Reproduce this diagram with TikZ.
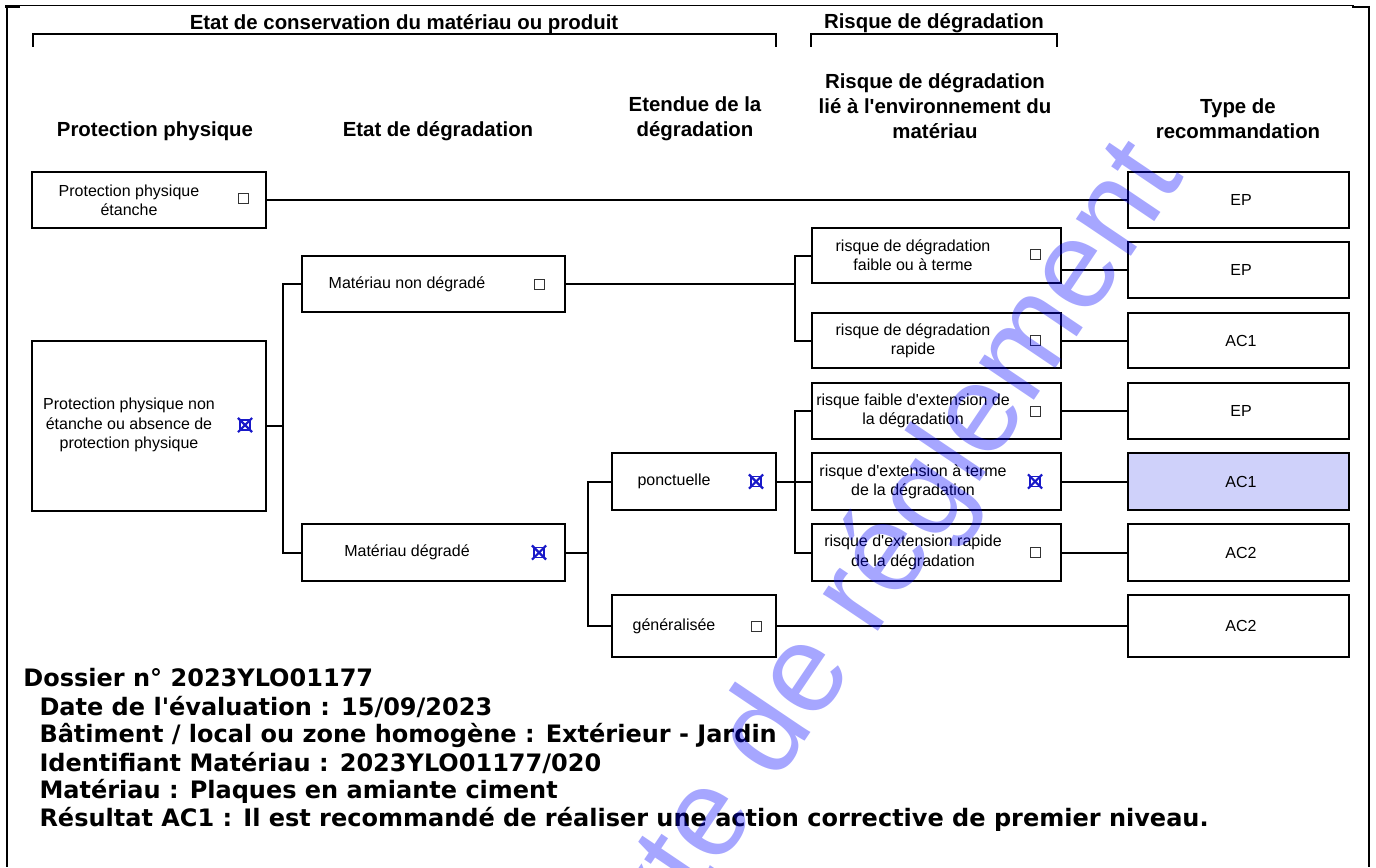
\documentclass[tikz,border=0pt]{standalone}
\usepackage{fontspec}
\setmainfont{Liberation Sans}
\newfontfamily\infofont{DejaVu Sans}
\definecolor{selfill}{RGB}{207,209,250}
\definecolor{xblue}{RGB}{25,25,200}
\definecolor{wmblue}{RGB}{0,0,255}
\newcommand{\ap}{\textquotesingle}

\tikzset{every picture/.style={line width=0.75pt}}
\tikzset{
  box/.style={draw, line width=1.5pt, inner sep=0pt},
  txt/.style={inner sep=0pt, align=center, font=\fontsize{12}{14.5}\selectfont},
  hdr/.style={inner sep=0pt, align=center, font=\fontsize{15.3}{18.75}\selectfont\bfseries},
  chk/.style={draw=black!80, line width=0.75pt, minimum size=7.5pt, inner sep=0pt},
  chkx/.style={draw=xblue, line width=0.9pt, minimum size=7.5pt, inner sep=0pt},
  xmark/.style={draw=xblue, line width=1.6pt, shorten <=-1.5pt, shorten >=-1.5pt},
  conn/.style={line width=1.5pt},
  info/.style={anchor=west, inner sep=0pt, font=\infofont\fontsize{18}{21}\selectfont\bfseries},
}

\begin{document}
\begin{tikzpicture}[x=0.75pt,y=0.75pt,yscale=-1,xscale=1]
\useasboundingbox (0,0) rectangle (1376,867);

%Frame
\draw [line width=0.75pt] (5,6) -- (1354,6) ;
\draw [line width=1.5pt] (5,7) -- (20,7) ;
\draw [line width=1.5pt] (1352,7) -- (1369,7) ;
\draw [line width=1.5pt] (7,6) -- (7,867) ;
\draw [line width=2pt] (1369,6) -- (1369,867) ;

%Brackets
\draw [line width=1.5pt] (33,47) -- (33,34) -- (776,34) -- (776,47) ;
\draw [line width=1.5pt] (811,47) -- (811,34) -- (1057,34) -- (1057,47) ;

% Text Node
\draw (404,24) node [hdr] (cons) {Etat de conservation du matériau ou produit};
% Text Node
\draw (934,23) node [hdr] (risk) {Risque de dégradation};
% Text Node
\draw (155,131) node [hdr] (hprot) {Protection physique};
% Text Node
\draw (438,131) node [hdr] (hetat) {Etat de dégradation};
% Text Node
\draw (695,119) node [hdr] (hetend) {Etendue de la\\dégradation};
% Text Node
\draw (935,106) node [hdr] (hrisk) {Risque de dégradation\\lié à l\ap environnement du\\matériau};
% Text Node
\draw (1238,119) node [hdr] (htype) {Type de\\recommandation};

%Protection physique
\draw (149,200) node [box, minimum width=175.5pt, minimum height=42pt] (ppe) {};
\draw (129,200) node [txt] (ppet) {Protection physique\\étanche};
\draw (243,198) node [chk] (ppec) {};
\draw (149,426) node [box, minimum width=175.5pt, minimum height=127.5pt] (ppne) {};
\draw (129,425) node [txt] (ppnet) {Protection physique non\\étanche ou absence de\\protection physique};
\draw (245,425) node [chkx] (ppnec) {};
\draw [xmark] (ppnec.north west) -- (ppnec.south east) ;
\draw [xmark] (ppnec.north east) -- (ppnec.south west) ;

%Etat de degradation
\draw (433.5,284) node [box, minimum width=197.25pt, minimum height=42pt] (mnd) {};
\draw (407,284) node [txt] (mndt) {Matériau non dégradé};
\draw (539,284) node [chk] (mndc) {};
\draw (433.5,552.5) node [box, minimum width=197.25pt, minimum height=42.5pt] (md) {};
\draw (407,552.5) node [txt] (mdt) {Matériau dégradé};
\draw (539,552.5) node [chkx] (mdc) {};
\draw [xmark] (mdc.north west) -- (mdc.south east) ;
\draw [xmark] (mdc.north east) -- (mdc.south west) ;

%Etendue
\draw (694,481.5) node [box, minimum width=123pt, minimum height=42.75pt] (ponc) {};
\draw (674,481.5) node [txt] (ponct) {ponctuelle};
\draw (756,481.5) node [chkx] (poncc) {};
\draw [xmark] (poncc.north west) -- (poncc.south east) ;
\draw [xmark] (poncc.north east) -- (poncc.south west) ;
\draw (694,626) node [box, minimum width=123pt, minimum height=46.5pt] (gen) {};
\draw (674,626) node [txt] (gent) {généralisée};
\draw (756,626) node [chk] (genc) {};

%Risque
\draw (936.5,255.5) node [box, minimum width=186.75pt, minimum height=41.25pt] (ra) {};
\draw (913,255.5) node [txt] (rat) {risque de dégradation\\faible ou à terme};
\draw (1035,254) node [chk] (rac) {};
\draw (936.5,340.5) node [box, minimum width=186.75pt, minimum height=41.25pt] (rb) {};
\draw (913,340.5) node [txt] (rbt) {risque de dégradation\\rapide};
\draw (1035,340.5) node [chk] (rbc) {};
\draw (936.5,411) node [box, minimum width=186.75pt, minimum height=42pt] (rc) {};
\draw (913,411) node [txt] (rct) {risque faible d\ap extension de\\la dégradation};
\draw (1035,411) node [chk] (rcc) {};
\draw (936.5,481.5) node [box, minimum width=186.75pt, minimum height=42.75pt] (rd) {};
\draw (913,481.5) node [txt] (rdt) {risque d\ap extension à terme\\de la dégradation};
\draw (1035,481.5) node [chkx] (rdc) {};
\draw [xmark] (rdc.north west) -- (rdc.south east) ;
\draw [xmark] (rdc.north east) -- (rdc.south west) ;
\draw (936.5,552.5) node [box, minimum width=186.75pt, minimum height=42.75pt] (re) {};
\draw (913,552.5) node [txt] (ret) {risque d\ap extension rapide\\de la dégradation};
\draw (1035,552.5) node [chk] (rec) {};

%Type de recommandation
\draw (1238.5,200) node [box, minimum width=165.75pt, minimum height=42pt] (epa) {};
\draw (1241,200) node [txt] (epat) {EP};
\draw (1238.5,270) node [box, minimum width=165.75pt, minimum height=42pt] (epb) {};
\draw (1241,270) node [txt] (epbt) {EP};
\draw (1238.5,340.5) node [box, minimum width=165.75pt, minimum height=41.25pt] (aca) {};
\draw (1241,340.5) node [txt] (acat) {AC1};
\draw (1238.5,411) node [box, minimum width=165.75pt, minimum height=42pt] (epc) {};
\draw (1241,411) node [txt] (epct) {EP};
\draw (1238.5,481.5) node [box, fill=selfill, minimum width=165.75pt, minimum height=42.75pt] (acb) {};
\draw (1241,481.5) node [txt] (acbt) {AC1};
\draw (1238.5,552.5) node [box, minimum width=165.75pt, minimum height=42.75pt] (acc) {};
\draw (1241,552.5) node [txt] (acct) {AC2};
\draw (1238.5,626) node [box, minimum width=165.75pt, minimum height=46.5pt] (acd) {};
\draw (1241,626) node [txt] (acdt) {AC2};

%Straight Lines
\coordinate (ja) at (283,426);
\coordinate (jb) at (795,284);
\coordinate (jc) at (588,552.5);
\coordinate (jd) at (795,481.5);
\draw [conn] (ppe.east) -- (epa.west) ;
\draw [conn] (ppne.east) -- (ja) ;
\draw [conn] (mnd.west) -| (ja) |- (md.west) ;
\draw [conn] (mnd.east) -- (jb) ;
\draw [conn] (ra.west) -| (jb) |- (rb.west) ;
\draw [conn] (md.east) -- (jc) ;
\draw [conn] (ponc.west) -| (jc) |- (gen.west) ;
\draw [conn] (ponc.east) -- (jd) ;
\draw [conn] (rc.west) -| (jd) |- (re.west) ;
\draw [conn] (jd) -- (rd.west) ;
\draw [conn] (epb.west) -- (epb.west -| ra.east) ;
\draw [conn] (rb.east) -- (aca.west) ;
\draw [conn] (rc.east) -- (epc.west) ;
\draw [conn] (rd.east) -- (acb.west) ;
\draw [conn] (re.east) -- (acc.west) ;
\draw [conn] (gen.east) -- (acd.west) ;

% Text Node
\draw (23,678) node [info] (dos) {Dossier n° 2023YLO01177};
\draw (39,707) node [info] (date) {Date de l'évaluation : 15/09/2023};
\draw (39,735) node [info] (bat) {Bâtiment / local ou zone homogène : Extérieur - Jardin};
\draw (39,763) node [info] (ident) {Identifiant Matériau : 2023YLO01177/020};
\draw (39,791) node [info] (mat) {Matériau : Plaques en amiante ciment};
\draw (39,819) node [info] (res) {Résultat AC1 : Il est recommandé de réaliser une action corrective de premier niveau.};

%Watermark
\draw (860,600) node [rotate=56, text=wmblue, text opacity=0.35, inner sep=0pt, font=\fontsize{94}{94}\selectfont] (wm) {Texte de réglement};

\end{tikzpicture}
\end{document}
